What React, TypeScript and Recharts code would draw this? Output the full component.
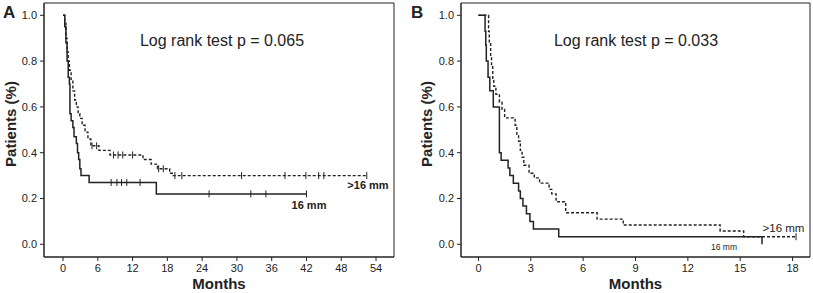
import React from 'react'
import {
  ComposedChart,
  Line,
  Scatter,
  XAxis,
  YAxis,
  ReferenceArea,
} from 'recharts'

// Panel A: survival curves (t = months, s = proportion)
const aSmall = [
  { t: 0, s: 1.0 }, { t: 0.3, s: 0.95 }, { t: 0.5, s: 0.88 }, { t: 0.7, s: 0.8 },
  { t: 0.9, s: 0.73 }, { t: 1.1, s: 0.7 }, { t: 1.2, s: 0.57 }, { t: 1.4, s: 0.54 },
  { t: 1.7, s: 0.51 }, { t: 1.9, s: 0.47 }, { t: 2.3, s: 0.44 }, { t: 2.5, s: 0.4 },
  { t: 2.7, s: 0.37 }, { t: 2.9, s: 0.33 }, { t: 3.1, s: 0.3 }, { t: 4.5, s: 0.27 },
  { t: 16.1, s: 0.22 }, { t: 42, s: 0.22 },
]
const aLarge = [
  { t: 0, s: 1.0 }, { t: 0.3, s: 0.97 }, { t: 0.5, s: 0.9 }, { t: 0.7, s: 0.84 },
  { t: 0.9, s: 0.8 }, { t: 1.1, s: 0.76 }, { t: 1.4, s: 0.72 }, { t: 1.7, s: 0.67 },
  { t: 2.0, s: 0.63 }, { t: 2.3, s: 0.6 }, { t: 2.6, s: 0.57 }, { t: 2.9, s: 0.55 },
  { t: 3.3, s: 0.52 }, { t: 3.8, s: 0.49 }, { t: 4.3, s: 0.46 }, { t: 4.8, s: 0.43 },
  { t: 6.2, s: 0.41 }, { t: 8.1, s: 0.39 }, { t: 13.8, s: 0.37 }, { t: 15.2, s: 0.35 },
  { t: 16.3, s: 0.33 }, { t: 18.4, s: 0.31 }, { t: 19.0, s: 0.3 }, { t: 52.4, s: 0.3 },
]
const aSmallCensored = [
  { t: 8.3, s: 0.27 }, { t: 9.3, s: 0.27 }, { t: 10.1, s: 0.27 }, { t: 11.0, s: 0.27 },
  { t: 13.3, s: 0.27 }, { t: 25.2, s: 0.22 }, { t: 32.4, s: 0.22 }, { t: 35.0, s: 0.22 },
  { t: 42.0, s: 0.22 },
]
const aLargeCensored = [
  { t: 5.0, s: 0.43 }, { t: 5.8, s: 0.43 }, { t: 8.7, s: 0.39 }, { t: 9.5, s: 0.39 },
  { t: 10.3, s: 0.39 }, { t: 12.0, s: 0.39 }, { t: 16.5, s: 0.33 }, { t: 17.3, s: 0.33 },
  { t: 19.3, s: 0.3 }, { t: 20.5, s: 0.3 }, { t: 30.8, s: 0.3 }, { t: 38.3, s: 0.3 },
  { t: 41.9, s: 0.3 }, { t: 44.1, s: 0.3 }, { t: 45.0, s: 0.3 }, { t: 52.4, s: 0.3 },
]

// Panel B
const bSmall = [
  { t: 0, s: 1.0 }, { t: 0.38, s: 0.93 }, { t: 0.42, s: 0.87 }, { t: 0.45, s: 0.8 },
  { t: 0.55, s: 0.73 }, { t: 0.65, s: 0.67 }, { t: 0.85, s: 0.6 }, { t: 1.2, s: 0.4 },
  { t: 1.3, s: 0.367 }, { t: 1.7, s: 0.333 }, { t: 1.8, s: 0.3 }, { t: 2.0, s: 0.267 },
  { t: 2.3, s: 0.233 }, { t: 2.4, s: 0.2 }, { t: 2.55, s: 0.167 }, { t: 2.75, s: 0.133 },
  { t: 2.95, s: 0.1 }, { t: 3.15, s: 0.067 }, { t: 4.6, s: 0.033 }, { t: 16.25, s: 0.0 },
]
const bLarge = [
  { t: 0, s: 1.0 }, { t: 0.58, s: 0.93 }, { t: 0.62, s: 0.88 }, { t: 0.7, s: 0.82 },
  { t: 0.75, s: 0.78 }, { t: 0.82, s: 0.72 }, { t: 0.88, s: 0.69 }, { t: 1.0, s: 0.655 },
  { t: 1.2, s: 0.62 }, { t: 1.35, s: 0.59 }, { t: 1.5, s: 0.552 }, { t: 2.1, s: 0.52 },
  { t: 2.2, s: 0.48 }, { t: 2.3, s: 0.45 }, { t: 2.4, s: 0.41 }, { t: 2.5, s: 0.38 },
  { t: 2.6, s: 0.345 }, { t: 2.9, s: 0.31 }, { t: 3.2, s: 0.29 }, { t: 3.5, s: 0.267 },
  { t: 4.05, s: 0.24 }, { t: 4.2, s: 0.22 }, { t: 4.45, s: 0.186 }, { t: 5.0, s: 0.138 },
  { t: 6.8, s: 0.11 }, { t: 8.3, s: 0.084 }, { t: 13.85, s: 0.058 }, { t: 15.2, s: 0.033 },
  { t: 18.2, s: 0.033 },
]
const bLargeCensored = [{ t: 18.2, s: 0.033 }]

const yTicks = [0, 0.2, 0.4, 0.6, 0.8, 1.0]
const aTicks = [0, 6, 12, 18, 24, 30, 36, 42, 48, 54]
const bTicks = [0, 3, 6, 9, 12, 15, 18]

const FONT = '"Liberation Sans", Arial, sans-serif'
const INK = '#222'

const CensorMark = (props: any) => {
  const { cx, cy } = props
  if (cx == null || cy == null) return null
  return <line x1={cx} x2={cx} y1={cy - 3.5} y2={cy + 3.5} stroke={INK} strokeWidth={1} />
}

const yLabel = (cx: number, cy: number) => () => (
  <text
    x={cx}
    y={cy}
    transform={`rotate(-90 ${cx} ${cy})`}
    textAnchor="middle"
    dominantBaseline="central"
    fontFamily={FONT}
    fontWeight="bold"
    fontSize={15}
    fill={INK}
  >
    Patients (%)
  </text>
)

type PanelProps = {
  width: number
  marginLeft: number
  marginRight: number
  xDomain: [number, number]
  xTicks: number[]
  small: { t: number; s: number }[]
  large: { t: number; s: number }[]
  smallCens: { t: number; s: number }[]
  largeCens: { t: number; s: number }[]
  labelX: number
}

const yDomain: [number, number] = [-0.0555, 1.0537]

function Panel(p: PanelProps) {
  const tickStyle = { fontSize: 11, fontFamily: FONT, fill: INK }
  return (
    <ComposedChart
      width={p.width}
      height={293}
      margin={{ top: 3, right: p.marginRight, left: p.marginLeft, bottom: 0 }}
    >
      <XAxis
        type="number"
        dataKey="t"
        domain={p.xDomain}
        ticks={p.xTicks}
        allowDataOverflow
        height={36}
        tickSize={4}
        tickMargin={3}
        tick={tickStyle}
        stroke={INK}
        interval={0}
        label={{
          value: 'Months',
          position: 'insideBottom',
          offset: 4,
          style: { fontSize: 15, fontWeight: 'bold', fontFamily: FONT, fill: INK },
        }}
      />
      <YAxis
        type="number"
        domain={yDomain}
        ticks={yTicks}
        allowDataOverflow
        width={44}
        tickSize={4}
        tickMargin={3}
        tick={tickStyle}
        stroke={INK}
        interval={0}
        tickFormatter={(v: number) => v.toFixed(1)}
        label={{ content: yLabel(p.labelX, 124) }}
      />
      <ReferenceArea
        x1={p.xDomain[0]}
        x2={p.xDomain[1]}
        y1={yDomain[0]}
        y2={yDomain[1]}
        fill="none"
        stroke={INK}
        strokeWidth={1}
        ifOverflow="visible"
      />
      <Line
        data={p.large}
        dataKey="s"
        type="stepAfter"
        stroke={INK}
        strokeWidth={1.4}
        strokeDasharray="3 2"
        dot={false}
        isAnimationActive={false}
      />
      <Line
        data={p.small}
        dataKey="s"
        type="stepAfter"
        stroke={INK}
        strokeWidth={1.5}
        dot={false}
        isAnimationActive={false}
      />
      <Scatter data={p.largeCens} dataKey="s" shape={CensorMark} isAnimationActive={false} />
      <Scatter data={p.smallCens} dataKey="s" shape={CensorMark} isAnimationActive={false} />
    </ComposedChart>
  )
}

export default function App() {
  return (
    <div
      style={{
        position: 'absolute',
        left: 0,
        top: 0,
        width: 813,
        height: 293,
        background: '#fff',
        fontFamily: FONT,
      }}
    >
      <div style={{ position: 'absolute', left: 0, top: 0 }}>
        <Panel
          width={406}
          marginLeft={0}
          marginRight={12}
          xDomain={[-3.28, 57.1]}
          xTicks={aTicks}
          small={aSmall}
          large={aLarge}
          smallCens={aSmallCensored}
          largeCens={aLargeCensored}
          labelX={10}
        />
      </div>
      <div style={{ position: 'absolute', left: 406, top: 0 }}>
        <Panel
          width={407}
          marginLeft={11}
          marginRight={3}
          xDomain={[-1.0, 19.0]}
          xTicks={bTicks}
          small={bSmall}
          large={bLarge}
          smallCens={[]}
          largeCens={bLargeCensored}
          labelX={20}
        />
      </div>
      <svg
        width={813}
        height={293}
        style={{ position: 'absolute', left: 0, top: 0, pointerEvents: 'none' }}
        fontFamily={FONT}
        fill={INK}
      >
        <text x={3} y={18} fontSize={17} fontWeight="bold">A</text>
        <text x={411} y={18} fontSize={17} fontWeight="bold">B</text>
        <text x={222} y={46} fontSize={16} textAnchor="middle">Log rank test p = 0.065</text>
        <text x={636} y={46} fontSize={16} textAnchor="middle">Log rank test p = 0.033</text>
        <text x={368} y={189} fontSize={11} fontWeight="bold" textAnchor="middle">&gt;16 mm</text>
        <text x={309} y={209} fontSize={11} fontWeight="bold" textAnchor="middle">16 mm</text>
        <text x={783.5} y={231.5} fontSize={11.5} textAnchor="middle">&gt;16 mm</text>
        <text x={724} y={250} fontSize={8.5} textAnchor="middle">16 mm</text>
      </svg>
    </div>
  )
}
